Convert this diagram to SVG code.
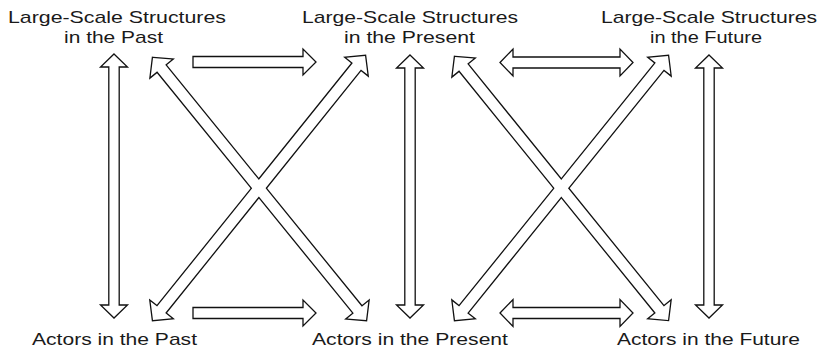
<svg xmlns="http://www.w3.org/2000/svg" xmlns:xlink="http://www.w3.org/1999/xlink" width="822" height="352" viewBox="0 0 822 352">
<style>
.lbl{font-family:"Liberation Sans",Arial,Helvetica,sans-serif;font-size:17px;fill:#1a1a1a}
.arr{fill:#fff;stroke:#111;stroke-width:1.3;stroke-linejoin:miter}
.under{fill:#fff;stroke:#111;stroke-width:2.6;stroke-linejoin:miter}
.over{fill:#fff;stroke:none}
</style>
<defs>
<polygon id="dA" points="0,0 13,-13.5 13,-5.2 324.7,-5.2 324.7,-13.5 337.7,0 324.7,13.5 324.7,5.2 13,5.2 13,13.5" transform="translate(153,58) rotate(50.89)"/>
<polygon id="dB" points="0,0 13,-13.5 13,-5.2 325.6,-5.2 325.6,-13.5 338.6,0 325.6,13.5 325.6,5.2 13,5.2 13,13.5" transform="translate(153,320) rotate(-51.23)"/>
<polygon id="dC" points="0,0 13,-13.5 13,-5.2 325.4,-5.2 325.4,-13.5 338.4,0 325.4,13.5 325.4,5.2 13,5.2 13,13.5" transform="translate(455,57) rotate(50.99)"/>
<polygon id="dD" points="0,0 13,-13.5 13,-5.2 326.2,-5.2 326.2,-13.5 339.2,0 326.2,13.5 326.2,5.2 13,5.2 13,13.5" transform="translate(455,320) rotate(-51.10)"/>
</defs>
<g id="n1"><text class="lbl" x="8" y="23" textLength="218" lengthAdjust="spacingAndGlyphs">Large-Scale Structures</text><text class="lbl" x="64" y="43" textLength="99" lengthAdjust="spacingAndGlyphs">in the Past</text></g>
<g id="n2"><text class="lbl" x="302" y="23" textLength="216" lengthAdjust="spacingAndGlyphs">Large-Scale Structures</text><text class="lbl" x="344" y="43" textLength="131" lengthAdjust="spacingAndGlyphs">in the Present</text></g>
<g id="n3"><text class="lbl" x="601" y="23" textLength="216" lengthAdjust="spacingAndGlyphs">Large-Scale Structures</text><text class="lbl" x="650" y="43" textLength="112" lengthAdjust="spacingAndGlyphs">in the Future</text></g>
<g id="n4"><text class="lbl" x="32" y="345" textLength="165" lengthAdjust="spacingAndGlyphs">Actors in the Past</text></g>
<g id="n5"><text class="lbl" x="312" y="345" textLength="196" lengthAdjust="spacingAndGlyphs">Actors in the Present</text></g>
<g id="n6"><text class="lbl" x="617" y="345" textLength="183" lengthAdjust="spacingAndGlyphs">Actors in the Future</text></g>
<g id="connectors">
<polygon class="arr" transform="translate(114,54) rotate(90)" points="0,0 13,-13.5 13,-5.2 251,-5.2 251,-13.5 264,0 251,13.5 251,5.2 13,5.2 13,13.5"/>
<polygon class="arr" transform="translate(410,55) rotate(90)" points="0,0 13,-13.5 13,-5.2 250,-5.2 250,-13.5 263,0 250,13.5 250,5.2 13,5.2 13,13.5"/>
<polygon class="arr" transform="translate(709,55) rotate(90)" points="0,0 13,-13.5 13,-5.2 250,-5.2 250,-13.5 263,0 250,13.5 250,5.2 13,5.2 13,13.5"/>
<polygon class="arr" transform="translate(193,62)" points="0,-5.5 110,-5.5 110,-13 123,0 110,13 110,5.5 0,5.5"/>
<polygon class="arr" transform="translate(193,313)" points="0,-5.5 110,-5.5 110,-13 123,0 110,13 110,5.5 0,5.5"/>
<polygon class="arr" transform="translate(500,62.5)" points="0,0 13,-13.5 13,-5.5 120,-5.5 120,-13.5 133,0 120,13.5 120,5.5 13,5.5 13,13.5"/>
<polygon class="arr" transform="translate(500,313)" points="0,0 13,-13.5 13,-5.5 120,-5.5 120,-13.5 133,0 120,13.5 120,5.5 13,5.5 13,13.5"/>
<use xlink:href="#dA" class="under"/>
<use xlink:href="#dB" class="under"/>
<use xlink:href="#dA" class="over"/>
<use xlink:href="#dB" class="over"/>
<use xlink:href="#dC" class="under"/>
<use xlink:href="#dD" class="under"/>
<use xlink:href="#dC" class="over"/>
<use xlink:href="#dD" class="over"/>
</g>
</svg>
